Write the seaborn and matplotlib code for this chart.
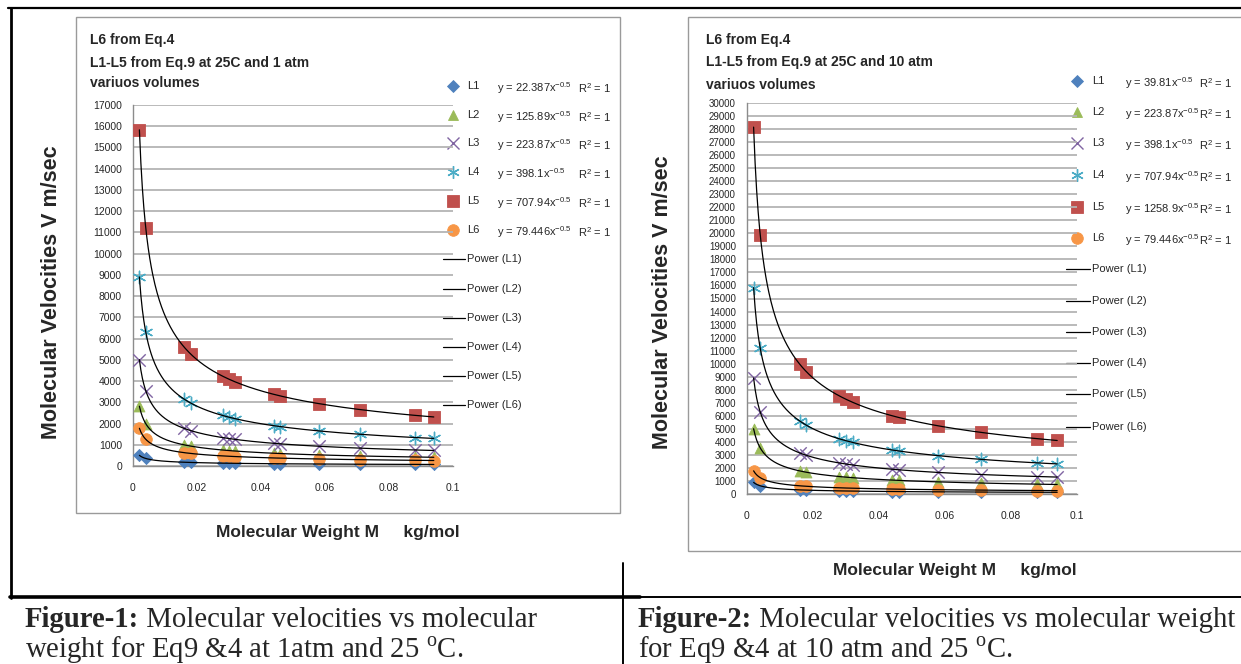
import numpy as np
import pandas as pd
import seaborn as sns
import matplotlib.pyplot as plt
from matplotlib import font_manager

sns.set_style("white")
plt.rcParams["font.family"] = ["Liberation Sans", "DejaVu Sans"]

installed = {f.name for f in font_manager.fontManager.ttflist}
NARROW = "Liberation Sans Narrow" if "Liberation Sans Narrow" in installed else "Liberation Sans"
SERIF = "Liberation Serif"

# ---- data ----
mol_weight = [0.002, 0.004, 0.016, 0.018, 0.028, 0.030, 0.032,
              0.044, 0.046, 0.058, 0.071, 0.088, 0.094]
series_names = ["L1", "L2", "L3", "L4", "L5", "L6"]

# Figure-1: 1 atm
f1_L1 = [501, 354, 177, 167, 134, 129, 125, 107, 104, 93, 84, 75, 73]
f1_L2 = [2815, 1990, 995, 938, 752, 727, 704, 600, 587, 523, 472, 424, 411]
f1_L3 = [5006, 3540, 1770, 1669, 1338, 1293, 1251, 1067, 1044, 930, 840, 755, 730]
f1_L4 = [8902, 6294, 3147, 2967, 2379, 2299, 2225, 1898, 1856, 1653, 1494, 1342, 1299]
f1_L5 = [15830, 11193, 5597, 5277, 4231, 4087, 3957, 3375, 3301, 2939, 2657, 2386, 2309]
f1_L6 = [1776, 1256, 628, 592, 475, 459, 444, 379, 370, 330, 298, 268, 259]

# Figure-2: 10 atm
f2_L1 = [890, 629, 315, 297, 238, 230, 223, 190, 186, 165, 149, 134, 130]
f2_L2 = [5006, 3540, 1770, 1669, 1338, 1293, 1251, 1067, 1044, 930, 840, 755, 730]
f2_L3 = [8902, 6294, 3147, 2967, 2379, 2299, 2225, 1898, 1856, 1653, 1494, 1342, 1299]
f2_L4 = [15830, 11193, 5597, 5277, 4231, 4087, 3957, 3375, 3301, 2939, 2657, 2386, 2309]
f2_L5 = [28151, 19905, 9953, 9384, 7523, 7268, 7037, 6001, 5870, 5227, 4725, 4244, 4106]
f2_L6 = [1776, 1256, 628, 592, 475, 459, 444, 379, 370, 330, 298, 268, 259]

f1_eq = ["y = 22.387x", "y = 125.89x", "y = 223.87x", "y = 398.1x", "y = 707.94x", "y = 79.446x"]
f2_eq = ["y = 39.81x", "y = 223.87x", "y = 398.1x", "y = 707.94x", "y = 1258.9x", "y = 79.446x"]

x_ticks = [0, 0.02, 0.04, 0.06, 0.08, 0.1]
x_tick_labels = ["0", "0.02", "0.04", "0.06", "0.08", "0.1"]

colors = ["#4F81BD", "#9BBB59", "#8064A2", "#4BACC6", "#C0504D", "#F79646"]
markers = ["D", "^", "x", (6, 2, 0), "s", "o"]
msizes = [38, 62, 80, 80, 80, 70]

# ---- figure in pixel coordinates ----
W, H = 1241, 664
fig = plt.figure(figsize=(W / 100, H / 100), dpi=100)


def fx(x):
    return x / W


def fy(y):
    return 1 - y / H


def hline(y, x0, x1, color="black", lw=1.5):
    fig.add_artist(plt.Line2D([fx(x0), fx(x1)], [fy(y), fy(y)], color=color, lw=lw))


def vline(x, y0, y1, color="black", lw=1.5):
    fig.add_artist(plt.Line2D([fx(x), fx(x)], [fy(y0), fy(y1)], color=color, lw=lw))


def draw_chart(box, plot, ymax, ysize, data, eqs, titles, leg, pw, ylab, xlab):
    bx0, by0, bx1, by1 = box
    fig.add_artist(plt.Rectangle((fx(bx0), fy(by1)), fx(bx1 - bx0), (by1 - by0) / H,
                                 fill=False, ec="#9a9a9a", lw=1.0))
    px0, py0, px1, py1 = plot
    ax = fig.add_axes([fx(px0), fy(py1), fx(px1 - px0), (py1 - py0) / H])
    ax.set_facecolor("none")

    df = pd.DataFrame({"M": mol_weight})
    for name, vals in zip(series_names, data):
        df[name] = vals
    long = df.melt(id_vars="M", var_name="series", value_name="V")

    for i, name in enumerate(series_names):
        sub = long[long["series"] == name]
        filled = markers[i] not in ("x", (6, 2, 0))
        kw = dict(edgecolor=colors[i], linewidth=0.6) if filled else dict(linewidth=1.0)
        sns.scatterplot(data=sub, x="M", y="V", ax=ax, marker=markers[i], color=colors[i],
                        s=msizes[i], zorder=3 + i, clip_on=False, legend=False, **kw)

    # power trendlines fitted like Excel (log-log least squares)
    for name in series_names:
        sub = long[long["series"] == name]
        b, loga = np.polyfit(np.log(sub["M"]), np.log(sub["V"]), 1)
        xs = np.linspace(sub["M"].min(), sub["M"].max(), 400)
        fit = pd.DataFrame({"M": xs, "V": np.exp(loga) * xs ** b})
        sns.lineplot(data=fit, x="M", y="V", ax=ax, color="black", lw=0.9, zorder=10)

    ax.set_xlim(0, 0.1)
    ax.set_ylim(0, ymax)
    ax.set_xticks(x_ticks)
    ax.set_xticklabels(x_tick_labels, family=NARROW, fontsize=7.5)
    ax.set_yticks(range(0, ymax + 1, 1000))
    ax.set_yticklabels([str(v) for v in range(0, ymax + 1, 1000)], family=NARROW, fontsize=ysize)
    ax.set_xlabel("")
    ax.set_ylabel("")
    ax.grid(axis="y", color="#b4b4b4", lw=1.3)
    ax.grid(axis="x", visible=False)
    for s in ["top", "right"]:
        ax.spines[s].set_visible(False)
    for s in ["left", "bottom"]:
        ax.spines[s].set_color("#8c8c8c")
        ax.spines[s].set_linewidth(1.0)
    ax.tick_params(axis="y", direction="out", length=3, color="#8c8c8c", pad=5)
    ax.tick_params(axis="x", direction="out", length=3, color="#8c8c8c", pad=9)
    ax.set_zorder(2)

    # in-chart title
    tx, tys = titles[0], titles[1]
    for txt, ty in zip(titles[2], tys):
        fig.text(fx(tx), fy(ty), txt, family=NARROW, weight="bold", fontsize=10, va="center")

    # legend
    mx, lx, ex, rx, rows = leg
    for i, (name, ry) in enumerate(zip(series_names, rows)):
        filled = markers[i] not in ("x", (6, 2, 0))
        fig.add_artist(plt.Line2D([fx(mx)], [fy(ry)], marker=markers[i], color=colors[i],
                                  markersize=np.sqrt(msizes[i]),
                                  markeredgewidth=0.6 if filled else 1.0, ls="none"))
        fig.text(fx(lx), fy(ry), name, family=NARROW, fontsize=8, va="center")
        fig.text(fx(ex), fy(ry + 2), eqs[i] + r"$^{\mathregular{-0.5}}$", family=NARROW,
                 fontsize=8, va="center")
        fig.text(fx(rx), fy(ry + 2), r"R$^{\mathregular{2}}$ = 1", family=NARROW,
                 fontsize=8, va="center")
    lx0, lx1, ptx, prow = pw
    for name, ry in zip(series_names, prow):
        fig.add_artist(plt.Line2D([fx(lx0), fx(lx1)], [fy(ry), fy(ry)], color="black", lw=0.9))
        fig.text(fx(ptx), fy(ry), f"Power ({name})", family=NARROW, fontsize=8, va="center")

    # axis titles
    fig.text(fx(ylab[0]), fy(ylab[1]), "Molecular Velocities V m/sec", rotation=90,
             weight="bold", fontsize=15.5, ha="center", va="center")
    fig.text(fx(xlab[0]), fy(xlab[1]), "Molecular Weight M     kg/mol", family=NARROW,
             weight="bold", fontsize=12.5, ha="center", va="center")
    return ax


draw_chart(box=(76, 17, 620, 513), plot=(133, 105, 453, 466), ymax=17000, ysize=7.5,
           data=[f1_L1, f1_L2, f1_L3, f1_L4, f1_L5, f1_L6], eqs=f1_eq,
           titles=(90, [40, 63, 83], ["L6 from Eq.4", "L1-L5 from Eq.9 at 25C and 1 atm",
                                      "variuos volumes"]),
           leg=(453, 467, 497, 578, [86, 115, 143, 172, 201, 230]),
           pw=(443, 465, 467, [259, 289, 318, 347, 376, 405]),
           ylab=(52, 292), xlab=(338, 533))

draw_chart(box=(688, 17, 1250, 551), plot=(747, 103, 1077, 494), ymax=30000, ysize=7,
           data=[f2_L1, f2_L2, f2_L3, f2_L4, f2_L5, f2_L6], eqs=f2_eq,
           titles=(706, [40, 62, 85], ["L6 from Eq.4", "L1-L5 from Eq.9 at 25C and 10 atm",
                                       "variuos volumes"]),
           leg=(1077, 1092, 1125, 1199, [81, 112, 143, 175, 207, 238]),
           pw=(1066, 1090, 1092, [269, 301, 332, 363, 394, 427]),
           ylab=(662, 302), xlab=(955, 571))

# ---- table lines ----
hline(8, 8, 1241, lw=1.6)
vline(11, 8, 598, lw=2.0)
hline(597, 10, 640, lw=2.6)
hline(597, 640, 1241, lw=1.4)
vline(623, 563, 664, lw=1.4)

# ---- captions ----
renderer = fig.canvas.get_renderer()
cap_size = 20.7


def caption(x, y, bold, rest):
    t = fig.text(fx(x), fy(y), bold, family=SERIF, weight="bold", fontsize=cap_size, va="baseline")
    bb = t.get_window_extent(renderer)
    fig.text(bb.x1 / fig.bbox.width, fy(y), rest, family=SERIF, fontsize=cap_size, va="baseline")


caption(25, 627, "Figure-1:", " Molecular velocities vs molecular")
fig.text(fx(25), fy(658), r"weight for Eq9 &4 at 1atm and 25 $^{\mathregular{o}}$C.",
         family=SERIF, fontsize=cap_size, va="baseline")
caption(638, 627, "Figure-2:", " Molecular velocities vs molecular weight")
fig.text(fx(638), fy(658), r"for Eq9 &4 at 10 atm and 25 $^{\mathregular{o}}$C.",
         family=SERIF, fontsize=cap_size, va="baseline")

fig.savefig("out.png", dpi=100)
